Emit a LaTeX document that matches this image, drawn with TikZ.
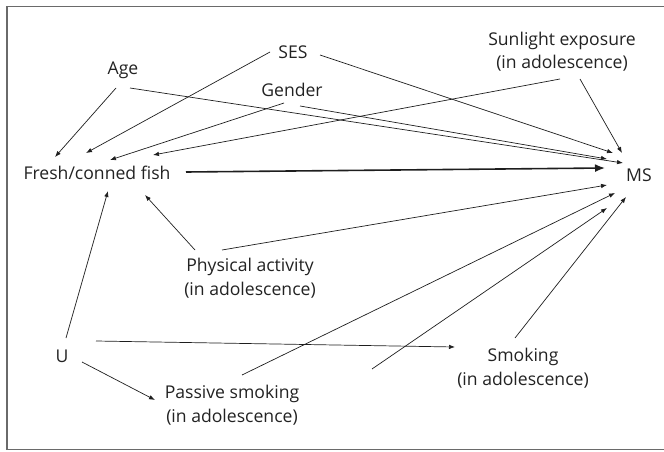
\documentclass[tikz,border=0pt]{standalone}
\usepackage{fontspec}
\setmainfont{Open Sans}
\usetikzlibrary{arrows.meta}
\definecolor{txt}{HTML}{222222}
\definecolor{ln}{HTML}{1E1E1E}
\definecolor{frm}{HTML}{6A6A6A}
\begin{document}
\begin{tikzpicture}[x=1pt,y=-1pt,
  lab/.style={text=txt,font=\fontsize{17.6}{23.5}\selectfont,align=center,inner sep=0pt},
  edge/.style={draw=ln,line width=0.7pt,-{Latex[length=6pt,width=4.5pt]}},
  thick edge/.style={draw=ln,line width=1.6pt,-{Latex[length=10pt,width=8pt]}}]
\useasboundingbox (0,0) rectangle (664,452);
\draw[frm,line width=1.3pt] (668,6.5) -- (7,6.5) -- (7,449.5) -- (668,449.5);
% nodes
\node[lab] (ses) at (293,52) {SES};
\node[lab] (age) at (123,70) {Age};
\node[lab] (gender) at (292,90) {Gender};
\node[lab] (sun) at (562,51.5) {Sunlight exposure\\(in adolescence)};
\node[lab] (fish) at (97,173) {Fresh/conned fish};
\node[lab] (ms) at (639,175) {MS};
\node[lab] (phys) at (250,278) {Physical activity\\(in adolescence)};
\node[lab] (u) at (62,356) {U};
\node[lab] (passive) at (232,405) {Passive smoking\\(in adolescence)};
\node[lab] (smoking) at (523,368) {Smoking\\(in adolescence)};
\coordinate (free) at (372,369);
% edges
\draw[edge] ([shift={(-7,18)}]age.center) -- ([shift={(-42,-16)}]fish.center);
\draw[edge] ([shift={(-23,0)}]ses.center) -- ([shift={(-11,-20)}]fish.center);
\draw[edge] ([shift={(-8,13)}]gender.center) -- ([shift={(13,-13)}]fish.center);
\draw[edge] ([shift={(-2,27.5)}]sun.center) -- ([shift={(56,-18)}]fish.center);
\draw[edge] ([shift={(7,18)}]age.center) -- ([shift={(-16,-12)}]ms.center);
\draw[edge] ([shift={(8,16)}]gender.center) -- ([shift={(-32,-16)}]ms.center);
\draw[edge] ([shift={(27,3)}]ses.center) -- ([shift={(-26,-22)}]ms.center);
\draw[edge] ([shift={(18,27.5)}]sun.center) -- ([shift={(-17,-22)}]ms.center);
\draw[thick edge] ([shift={(89,-1)}]fish.center) -- ([shift={(-34,-7)}]ms.center);
\draw[edge] ([shift={(-55,-28)}]phys.center) -- ([shift={(48,22)}]fish.center);
\draw[edge] ([shift={(4,-18)}]u.center) -- ([shift={(11,18)}]fish.center);
\draw[edge] ([shift={(-28,-28)}]phys.center) -- ([shift={(-32,10)}]ms.center);
\draw[edge] ([shift={(34,-15)}]u.center) -- ([shift={(-68,-21)}]smoking.center);
\draw[edge] ([shift={(20,6)}]u.center) -- ([shift={(-77,-5)}]passive.center);
\draw[edge] ([shift={(10,-30)}]passive.center) -- ([shift={(-24,18)}]ms.center);
\draw[edge] (free) -- ([shift={(-32,33)}]ms.center);
\draw[edge] ([shift={(-8,-30)}]smoking.center) -- ([shift={(-13,22)}]ms.center);
\end{tikzpicture}
\end{document}
